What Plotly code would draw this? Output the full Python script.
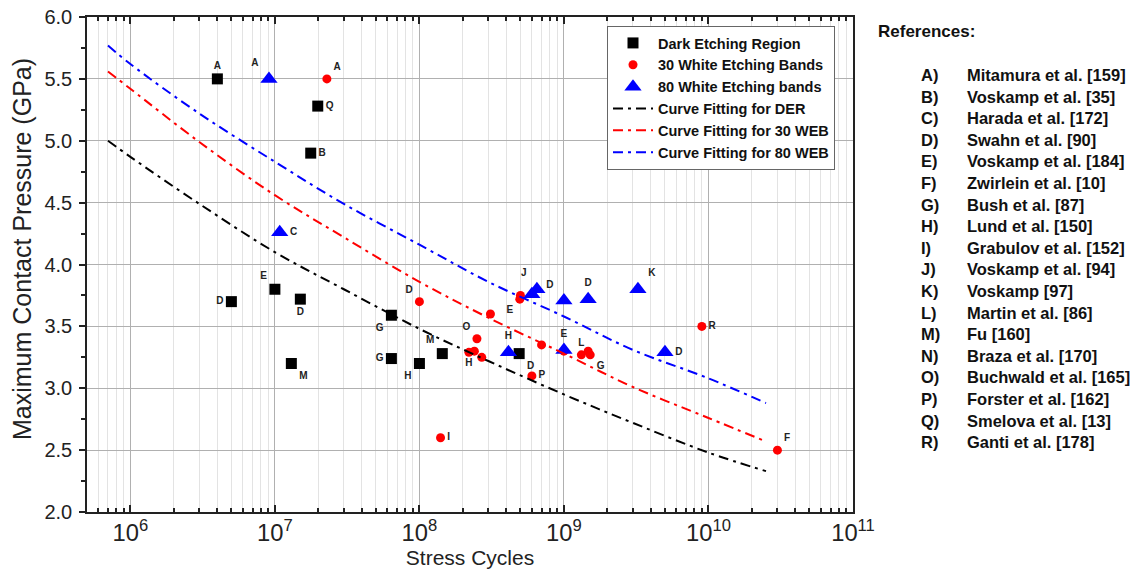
import plotly.graph_objects as go

# ---------------- data ----------------
der_x = [4e6, 1.98e7, 1.77e7, 5e6, 1e7, 1.5e7, 1.3e7, 6.4e7, 6.4e7, 1e8, 1.44e8, 4.9e8]
der_y = [5.5, 5.28, 4.9, 3.7, 3.8, 3.72, 3.2, 3.59, 3.24, 3.2, 3.28, 3.28]
der_lbl = ["A", "Q", "B", "D", "E", "D", "M", "G", "G", "H", "M", "D"]

web30_x = [2.29e7, 1e8, 4.95e8, 5e8, 3.1e8, 2.5e8, 2.2e8, 2.4e8, 2.7e8, 7e8, 1e9,
           1.32e9, 1.47e9, 1.52e9, 6e8, 1.4e8, 9e9, 3e10]
web30_y = [5.5, 3.7, 3.72, 3.75, 3.6, 3.4, 3.29, 3.30, 3.25, 3.35, 3.30,
           3.27, 3.30, 3.27, 3.1, 2.6, 3.5, 2.5]
web30_lbl = ["A", "D", "E", "", "", "O", "H", "", "", "", "",
             "L", "", "G", "P", "I", "R", "F"]

web80_x = [9.1e6, 1.08e7, 6.5e8, 6e8, 1e9, 1.47e9, 3.25e9, 4.13e8, 1e9, 5e9]
web80_y = [5.5, 4.26, 3.8, 3.76, 3.71, 3.72, 3.8, 3.29, 3.31, 3.29]
web80_lbl = ["A", "C", "J", "", "D", "D", "K", "H", "E", "D"]

fit_x = [7e5, 1e6, 3e6, 1e7, 3e7, 1e8, 3e8, 1e9, 3e9, 1e10, 2.5e10]
fit_der = [5.00, 4.87, 4.49, 4.10, 3.80, 3.48, 3.22, 2.95, 2.72, 2.48, 2.33]
fit_30 = [5.56, 5.42, 4.99, 4.56, 4.22, 3.86, 3.57, 3.28, 3.01, 2.76, 2.57]
fit_80 = [5.77, 5.62, 5.22, 4.83, 4.49, 4.16, 3.86, 3.58, 3.31, 3.08, 2.88]

ref_letters = ["A)", "B)", "C)", "D)", "E)", "F)", "G)", "H)", "I)", "J)", "K)",
               "L)", "M)", "N)", "O)", "P)", "Q)", "R)"]
ref_names = ["Mitamura et al. [159]", "Voskamp et al. [35]", "Harada et al. [172]",
             "Swahn et al. [90]", "Voskamp et al. [184]", "Zwirlein et al. [10]",
             "Bush et al. [87]", "Lund et al. [150]", "Grabulov et al. [152]",
             "Voskamp et al. [94]", "Voskamp [97]", "Martin et al. [86]", "Fu [160]",
             "Braza et al. [170]", "Buchwald et al. [165]", "Forster et al. [162]",
             "Smelova et al. [13]", "Ganti et al. [178]"]

# label placements (style)
der_pos = ["top center", "middle right", "middle right", "middle left", "top left",
           "bottom center", "bottom right", "bottom left", "middle left", "bottom left",
           "top left", "bottom right"]
web30_pos = ["top right", "top left", "bottom left", "top center", "top center", "top left",
             "bottom center", "top center", "top center", "top center", "top center",
             "top center", "top center", "bottom right", "middle right", "middle right",
             "middle right", "top right"]
web80_pos = ["top left", "middle right", "top left", "top center", "top left", "top center",
             "top right", "top center", "top center", "middle right"]

FONT = "Arial, Liberation Sans, sans-serif"
fig = go.Figure()

DASH = "10px,5px,3px,5px"
fig.add_trace(go.Scatter(x=der_x, y=der_y, mode="markers", name="Dark Etching Region",
                         marker=dict(symbol="square", size=11, color="black")))
fig.add_trace(go.Scatter(x=web30_x, y=web30_y, mode="markers", name="30 White Etching Bands",
                         marker=dict(symbol="circle", size=9, color="#ff0000")))
fig.add_trace(go.Scatter(x=web80_x, y=web80_y, mode="markers", name="80 White Etching bands",
                         marker=dict(symbol="triangle-up", size=15, color="#0000ff")))
fig.add_trace(go.Scatter(x=fit_x, y=fit_der, mode="lines", name="Curve Fitting for DER",
                         line=dict(color="black", width=2, dash=DASH, shape="spline")))
fig.add_trace(go.Scatter(x=fit_x, y=fit_30, mode="lines", name="Curve Fitting for 30 WEB",
                         line=dict(color="#ff0000", width=2, dash=DASH, shape="spline")))
fig.add_trace(go.Scatter(x=fit_x, y=fit_80, mode="lines", name="Curve Fitting for 80 WEB",
                         line=dict(color="#0000ff", width=2, dash=DASH, shape="spline")))

# point labels (only points that carry a label)
for xs, ys, lb, pos, sz in [(der_x, der_y, der_lbl, der_pos, 11),
                             (web30_x, web30_y, web30_lbl, web30_pos, 9),
                             (web80_x, web80_y, web80_lbl, web80_pos, 15)]:
    keep = [i for i, t in enumerate(lb) if t]
    fig.add_trace(go.Scatter(x=[xs[i] for i in keep], y=[ys[i] for i in keep],
                             text=[lb[i] for i in keep], mode="markers+text",
                             textposition=[pos[i] for i in keep],
                             marker=dict(size=sz, opacity=0), showlegend=False,
                             hoverinfo="skip",
                             textfont=dict(family=FONT, size=10, color="#222", weight="bold")))

# body margin is removed (post_script), so figure pixels == window pixels
W, H = 1142, 574
PL, PR, PT, PB = 87, 853, 17, 512   # plot-area edges
L, R, T, B = PL, W - PR, PT, H - PB
pw, ph = W - L - R, H - T - B

def px2paper(px, py):
    return (px - L) / pw, (H - B - py) / ph

annotations = []
tx, ty = px2paper(22, 249)
annotations.append(dict(x=tx, y=ty, xref="paper", yref="paper",
                        text="Maximum Contact Pressure (GPa)", textangle=-90,
                        showarrow=False, xanchor="center", yanchor="middle",
                        font=dict(family=FONT, size=25, color="#222")))
ax, ay = px2paper(876, 32)
annotations.append(dict(x=ax, y=ay, xref="paper", yref="paper", text="<b>References:</b>",
                        showarrow=False, xanchor="left", yanchor="middle",
                        font=dict(family=FONT, size=17, color="#111")))
for i, (lt, nm) in enumerate(zip(ref_letters, ref_names)):
    yy = 75 + i * 21.6
    x1, y1 = px2paper(919, yy)
    x2, _ = px2paper(965, yy)
    annotations.append(dict(x=x1, y=y1, xref="paper", yref="paper", text="<b>%s</b>" % lt,
                            showarrow=False, xanchor="left", yanchor="middle",
                            font=dict(family=FONT, size=16.5, color="#111")))
    annotations.append(dict(x=x2, y=y1, xref="paper", yref="paper", text="<b>%s</b>" % nm,
                            showarrow=False, xanchor="left", yanchor="middle",
                            font=dict(family=FONT, size=16.5, color="#111")))

fig.update_layout(
    width=W, height=H,
    margin=dict(l=L, r=R, t=T, b=B),
    paper_bgcolor="white", plot_bgcolor="white",
    font=dict(family=FONT, color="#222"),
    showlegend=True,
    legend=dict(x=px2paper(607, 0)[0], y=px2paper(0, 26)[1], xanchor="left", yanchor="top",
                bgcolor="white", bordercolor="#666", borderwidth=1,
                font=dict(family=FONT, size=14.5, color="#111", weight="bold"),
                tracegroupgap=0, itemwidth=40),
    annotations=annotations,
)
fig.update_xaxes(
    type="log", range=[5.7, 11], dtick=1, exponentformat="power", automargin=False,
    showline=True, linecolor="#222", linewidth=1.5, mirror="ticks",
    ticks="inside", ticklen=7, tickcolor="#222", tickwidth=1.5,
    showgrid=True, gridcolor="#b0b0b0", gridwidth=1,
    minor=dict(dtick="D1", ticks="inside", ticklen=4, tickcolor="#222",
               showgrid=True, gridcolor="#e3e3e3", gridwidth=1),
    tickfont=dict(family=FONT, size=19, color="#222"),
    title=dict(text="Stress Cycles", font=dict(family=FONT, size=21, color="#222"), standoff=2),
    zeroline=False,
)
fig.update_yaxes(
    range=[2, 6], dtick=0.5, tickformat=".1f", automargin=False,
    ticklabeloverflow="allow", ticklabelstandoff=3,
    showline=True, linecolor="#222", linewidth=1.5, mirror=True,
    ticks="outside", ticklen=6, tickcolor="#222", tickwidth=1.5,
    showgrid=True, gridcolor="#b0b0b0", gridwidth=1,
    minor=dict(dtick=0.25, ticks="outside", ticklen=4, tickcolor="#222", showgrid=False),
    tickfont=dict(family=FONT, size=20, color="#222"),
    zeroline=False,
)

fig.write_html("out.html", config={"displayModeBar": False},
               post_script="document.body.style.margin='0';document.body.style.overflow='hidden';")
